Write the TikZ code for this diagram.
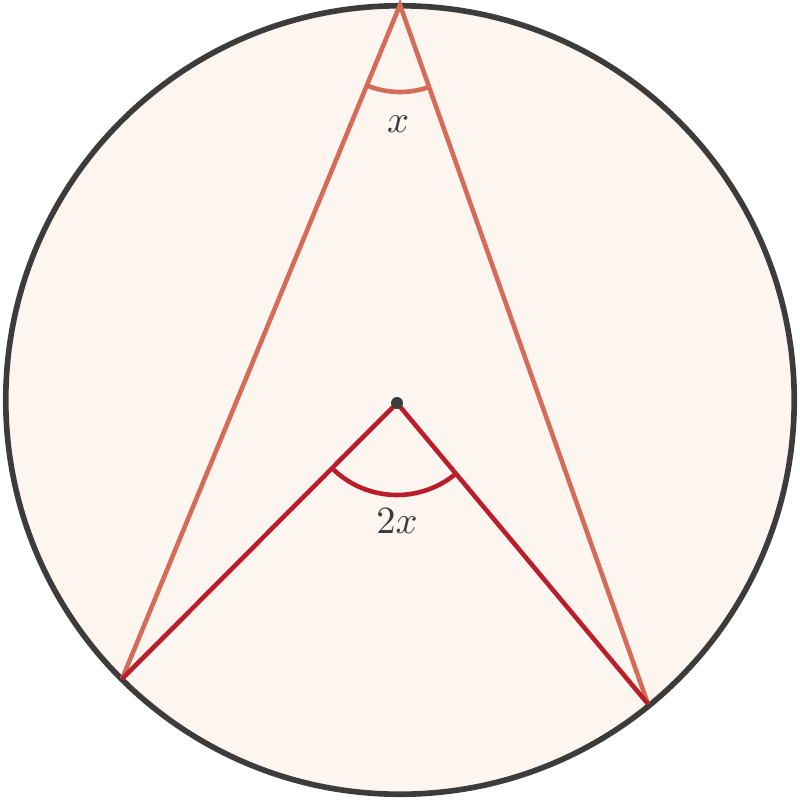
\documentclass[tikz,border=0pt]{standalone}
\usepackage{tikz}
\definecolor{circstroke}{HTML}{3C3C3C}
\definecolor{circfill}{HTML}{FDF5F0}
\definecolor{chordcol}{HTML}{D46C57}
\definecolor{radcol}{HTML}{BA1E2B}
\definecolor{labcol}{HTML}{3C3C3C}
\tikzset{
  circ/.style={draw=circstroke, fill=circfill, line width=1.6pt},
  chord/.style={draw=chordcol, line width=1.3pt},
  radius line/.style={draw=radcol, line width=1.3pt},
  lab/.style={text=labcol, font=\fontsize{11}{13}\selectfont, inner sep=0pt},
  dotnode/.style={circle, fill=circstroke, inner sep=0pt, minimum size=3.4pt}
}
\begin{document}
\begin{tikzpicture}[x=0.01cm,y=-0.01cm]
\useasboundingbox (0,0) rectangle (800,800);
\node[circ, circle, minimum size=7.88cm, inner sep=0pt] (C) at (400,400) {};
\coordinate (T) at (400,5);
\coordinate (L) at (122,679);
\coordinate (R) at (648,704);
\coordinate (O) at (397,403);
\draw[chord] (L) -- (T) -- (R);
\draw[radius line] (L) -- (O) -- (R);
\draw[chord] (T) ++(112.4:87) arc[start angle=112.4, end angle=70.5, radius=87];
\draw[radius line] (O) ++(134.9:92) arc[start angle=134.9, end angle=50.2, radius=92];
\node[dotnode] (Odot) at (O) {};
\node[lab] (lx) at (398,124) {$x$};
\node[lab] (l2x) at (397,521) {$2x$};
\end{tikzpicture}
\end{document}
